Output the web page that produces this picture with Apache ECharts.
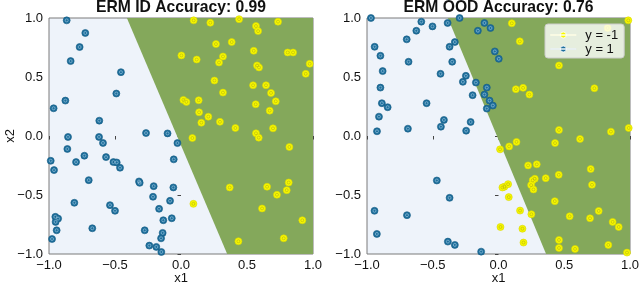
<!DOCTYPE html>
<html><head><meta charset="utf-8">
<script src="https://cdn.jsdelivr.net/npm/echarts@6/dist/echarts.min.js"></script>
<style>html,body{margin:0;padding:0;background:#fff}#c{width:640px;height:284px}</style>
</head><body><div id="c"></div>
<script>
// ---- data ----
const tickValues = [-1, -0.5, 0, 0.5, 1];
const titles = ['ERM ID Accuracy: 0.99', 'ERM OOD Accuracy: 0.76'];
const classNames = ['y = -1', 'y = 1'];
// decision boundary: [x at top (y=1), y top, x at bottom (y=-1), y bottom]
const idBoundary = [-0.41, 1, 0.35, -1];
const oodBoundary = [-0.385, 1, 0.362, -1];

const idPos = [[-0.866,0.98],[-0.725,0.873],[-0.768,0.754],[-0.836,0.635],[-0.455,0.541],[-0.876,0.30],[-0.49,0.36],[-0.965,0.235],[-0.619,0.13],[-0.856,-0.008],[-0.621,-0.008],[-0.265,0.025],[-0.102,0.022],[-0.591,-0.059],[-0.027,-0.06],[-0.861,-0.11],[-0.732,-0.167],[-0.568,-0.179],[-0.987,-0.21],[-0.795,-0.221],[-0.512,-0.221],[-0.487,-0.224],[-0.462,-0.269],[-0.962,-0.289],[-0.055,-0.198],[-0.699,-0.374],[-0.318,-0.385],[-0.313,-0.397],[-0.207,-0.425],[-0.058,-0.436],[-0.212,-0.515],[-0.083,-0.549],[-0.808,-0.566],[-0.538,-0.586],[-0.5,-0.634],[-0.166,-0.617],[-0.952,-0.685],[-0.931,-0.70],[-0.95,-0.728],[-0.134,-0.714],[-0.07,-0.697],[-0.672,-0.782],[-0.942,-0.799],[-0.275,-0.799],[-0.139,-0.821],[-0.151,-0.867],[-0.977,-0.873],[-0.24,-0.929],[-0.187,-0.94],[-0.149,-0.983]];
const idNeg = [[0.096,0.98],[0.222,0.96],[0.44,0.99],[0.568,0.932],[0.584,0.889],[0.735,0.969],[0.265,0.779],[0.384,0.796],[0.551,0.722],[0.003,0.683],[0.119,0.648],[0.318,0.674],[0.288,0.623],[0.808,0.708],[0.849,0.708],[0.576,0.598],[0.591,0.581],[0.975,0.612],[0.945,0.527],[0.253,0.47],[0.546,0.43],[0.644,0.43],[0.682,0.365],[0.318,0.368],[0.018,0.306],[0.041,0.289],[0.134,0.303],[0.718,0.294],[0.566,0.269],[0.137,0.201],[0.672,0.215],[0.207,0.164],[0.154,0.113],[0.295,0.12],[0.412,0.068],[0.697,0.065],[0.568,0.023],[0.589,-0.014],[0.086,-0.017],[0.821,-0.093],[0.816,-0.394],[0.369,-0.436],[0.652,-0.43],[0.801,-0.459],[0.727,-0.498],[0.094,-0.575],[0.614,-0.614],[0.919,-0.714],[0.435,-0.892],[0.778,-0.867]];
const oodPos = [[-0.97,1.0],[-0.587,0.969],[-0.502,0.929],[-0.625,0.892],[-0.698,0.819],[-0.942,0.756],[-0.898,0.68],[-0.684,0.629],[-0.881,0.55],[-0.441,0.527],[-0.898,0.41],[-0.887,0.278],[-0.843,0.244],[-0.547,0.278],[-0.909,0.164],[-0.415,0.136],[-0.438,0.079],[-0.924,0.04],[-0.689,0.062],[-0.246,0.045],[-0.212,0.119],[-0.387,0.958],[-0.296,1.0],[-0.157,0.892],[-0.107,0.958],[-0.061,0.915],[-0.332,0.796],[-0.372,0.756],[-0.028,0.717],[0.002,0.654],[-0.352,0.629],[-0.248,0.51],[-0.271,0.459],[-0.172,0.453],[-0.089,0.41],[-0.197,0.346],[-0.107,0.351],[-0.068,0.30],[-0.043,0.258],[-0.089,0.232],[-0.469,-0.377],[-0.372,-0.524],[-0.943,-0.634],[-0.696,-0.671],[-0.925,-0.83],[-0.385,-0.895],[-0.332,-0.923],[-0.132,-0.98]];
const oodNeg = [[0.101,0.955],[0.162,0.802],[0.46,0.598],[0.132,0.397],[0.187,0.408],[0.235,0.351],[0.729,0.405],[0.987,0.98],[0.83,0.915],[0.46,0.051],[0.855,0.037],[0.99,0.068],[0.62,-0.025],[0.43,-0.06],[0.137,-0.05],[0.081,-0.088],[0.012,-0.113],[0.225,-0.249],[0.291,-0.24],[0.701,-0.28],[0.276,-0.362],[0.26,-0.375],[0.359,-0.357],[0.458,-0.329],[0.045,-0.43],[0.073,-0.408],[0.03,-0.436],[0.248,-0.416],[0.266,-0.453],[0.711,-0.414],[0.078,-0.518],[0.428,-0.552],[0.164,-0.632],[0.25,-0.663],[0.541,-0.68],[0.696,-0.697],[0.762,-0.635],[0.868,-0.728],[0.914,-0.771],[0.015,-0.771],[0.182,-0.786],[0.19,-0.903],[0.46,-0.881],[0.46,-0.949],[0.582,-0.957],[0.835,-0.923],[0.977,-0.988]];

// ---- style ----
const FONT = '"Liberation Sans", Arial, Helvetica, sans-serif';
const LIGHT = '#eef3fa', GREEN = '#84a85b';
const YEL = '#f7f700', YEL_EDGE = '#d6d600', YEL_IN = 'rgba(150,150,20,0.55)';
const BLU = '#1d6e9b', BLU_EDGE = '#165d84', BLU_IN = 'rgba(190,220,240,0.7)';
const tMin = tickValues[0], tMax = tickValues[tickValues.length - 1], tStep = tickValues[1] - tickValues[0];
const fmt = v => (v < 0 ? '\u2212' : '') + Math.abs(v).toFixed(1);

const grids = [
  {left: 49, top: 18, width: 264, height: 236},
  {left: 367, top: 18, width: 263, height: 236}
].map(g => Object.assign(g, {show: true, containLabel: false, outerBoundsMode: 'none',
  backgroundColor: LIGHT, borderColor: '#7a7a7a', borderWidth: 1}));

function axis(i, isX) {
  return {
    type: 'value', gridIndex: i, min: tMin, max: tMax, interval: tStep,
    name: isX ? 'x1' : (i === 0 ? 'x2' : ''), nameLocation: 'middle',
    nameGap: isX ? 18 : 32, nameMoveOverlap: false,
    nameTextStyle: {fontFamily: FONT, fontSize: 13, color: '#111'},
    axisLine: {show: false},
    axisTick: {show: true, length: 3.5, lineStyle: {color: '#444'}},
    axisLabel: {fontFamily: FONT, fontSize: 13, color: '#111', margin: isX ? 5 : 6, formatter: fmt},
    splitLine: {show: false}
  };
}

const pathIcon = 'path://M0,4.5L43,4.5L43,5.5L0,5.5Z M26.5,5A5,5,0,1,1,16.5,5A5,5,0,1,1,26.5,5Z';

const series = [];
[[idBoundary, idNeg, idPos], [oodBoundary, oodNeg, oodPos]].forEach(([b, neg, pos], i) => {
  series.push({
    type: 'custom', xAxisIndex: i, yAxisIndex: i, silent: true, clip: true, z: 1,
    data: [b],
    encode: {x: [0, 2], y: [1, 3]},
    renderItem: (params, api) => {
      const pts = [[api.value(0), api.value(1)], [tMax, tMax], [tMax, tMin], [api.value(2), api.value(3)]].map(p => api.coord(p));
      return {type: 'polygon', shape: {points: pts}, style: {fill: GREEN}};
    }
  });
  series.push({name: classNames[0], type: 'scatter', xAxisIndex: i, yAxisIndex: i, z: 2, symbolSize: 7, data: neg,
    itemStyle: {color: YEL, borderColor: YEL_EDGE, borderWidth: 0.6, opacity: 1}});
  series.push({name: 'inner-neg', type: 'scatter', xAxisIndex: i, yAxisIndex: i, z: 3, symbolSize: 3, data: neg, silent: true,
    itemStyle: {color: 'rgba(0,0,0,0)', borderColor: YEL_IN, borderWidth: 0.7, opacity: 1}});
  series.push({name: classNames[1], type: 'scatter', xAxisIndex: i, yAxisIndex: i, z: 2, symbolSize: 7, data: pos,
    itemStyle: {color: BLU, borderColor: BLU_EDGE, borderWidth: 0.6, opacity: 1}});
  series.push({name: 'inner-pos', type: 'scatter', xAxisIndex: i, yAxisIndex: i, z: 3, symbolSize: 3, data: pos, silent: true,
    itemStyle: {color: 'rgba(0,0,0,0)', borderColor: BLU_IN, borderWidth: 0.7, opacity: 1}});
});

const chart = echarts.init(document.getElementById('c'), null, {renderer: 'canvas'});
chart.setOption({
  animation: false,
  backgroundColor: '#ffffff',
  title: titles.map((t, i) => ({
    text: t, left: grids[i].left + grids[i].width / 2, top: 0, textAlign: 'center', padding: 0,
    textStyle: {fontFamily: FONT, fontSize: 15.7, fontWeight: 'bold', color: '#111'}
  })),
  grid: grids,
  xAxis: [axis(0, true), axis(1, true)],
  yAxis: [axis(0, false), axis(1, false)],
  legend: {
    orient: 'vertical', left: 545, top: 24, padding: [4, 6, 2, 5], itemGap: 0,
    itemWidth: 26, itemHeight: 6,
    backgroundColor: 'rgba(255,255,255,0.8)', borderColor: '#cccccc', borderWidth: 1, borderRadius: 3,
    textStyle: {fontFamily: FONT, fontSize: 13, color: '#111', padding: [0, 0, 0, 4], lineHeight: 14},
    data: classNames.map(n => ({name: n, icon: pathIcon, itemStyle: {borderColor: '#ffffff', borderWidth: 0.8}}))
  },
  series: series
});
</script></body></html>
